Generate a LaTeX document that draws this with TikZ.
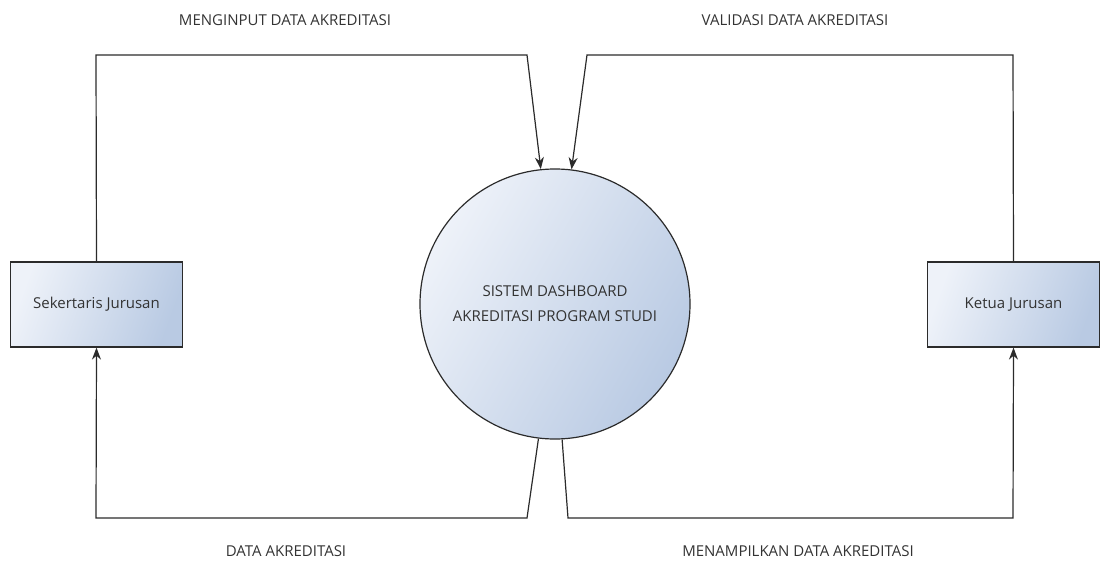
\documentclass[tikz,border=0pt]{standalone}
\usepackage{fontspec}
\setmainfont{Open Sans}
\usetikzlibrary{arrows.meta}
\definecolor{inkline}{HTML}{2B2B2B}
\definecolor{inktext}{HTML}{333333}
\definecolor{fillA}{HTML}{EEF2F9}
\definecolor{fillB}{HTML}{B9CAE3}
\tikzset{
  entity/.style={draw=inkline, line width=1.2pt, minimum width=172pt, minimum height=85pt,
    inner sep=0pt, shading=axis, left color=fillA, right color=fillB, shading angle=70,
    text=inktext, font=\fontsize{15}{18}\selectfont},
  process/.style={circle, draw=inkline, line width=1.2pt, minimum size=270pt, inner sep=0pt,
    shading=axis, left color=fillA, right color=fillB, shading angle=60,
    text=inktext, align=center, font=\fontsize{15}{25}\selectfont},
  flow/.style={draw=inkline, line width=1.2pt, -{Stealth[length=12pt,width=9pt]}},
  flowlabel/.style={text=inktext, font=\fontsize{15}{18}\selectfont, inner sep=0pt}
}
\begin{document}
\begin{tikzpicture}[x=1pt,y=-1pt]
  \useasboundingbox (0,0) rectangle (1100,564);

  % external entities and the central process
  \node[entity] (sek) at (96.5,304.5) {Sekertaris Jurusan};
  \node[entity] (ket) at (1013.5,304.5) {Ketua Jurusan};
  \node[process] (sis) at (555,304) {SISTEM DASHBOARD\\AKREDITASI PROGRAM STUDI};

  % bend points of the data flows
  \coordinate (c1) at (96,55);
  \coordinate (c2) at (527,55);
  \coordinate (c3) at (1013,55);
  \coordinate (c4) at (587,55);
  \coordinate (c5) at (527,518);
  \coordinate (c6) at (96,518);
  \coordinate (c7) at (568,518);
  \coordinate (c8) at (1013,518);

  % data flows
  \draw[flow] (sek.north) -- (c1) -- (c2) -- (sis.96);
  \draw[flow] (ket.north) -- (c3) -- (c4) -- (sis.83);
  \draw[flow] (sis.263) -- (c5) -- (c6) -- (sek.south);
  \draw[flow] (sis.-87) -- (c7) -- (c8) -- (ket.south);

  % flow labels
  \node[flowlabel] (l1) at (285,20) {MENGINPUT DATA AKREDITASI};
  \node[flowlabel] (l2) at (795,20) {VALIDASI DATA AKREDITASI};
  \node[flowlabel] (l3) at (286,551) {DATA AKREDITASI};
  \node[flowlabel] (l4) at (798,551) {MENAMPILKAN DATA AKREDITASI};
\end{tikzpicture}
\end{document}
